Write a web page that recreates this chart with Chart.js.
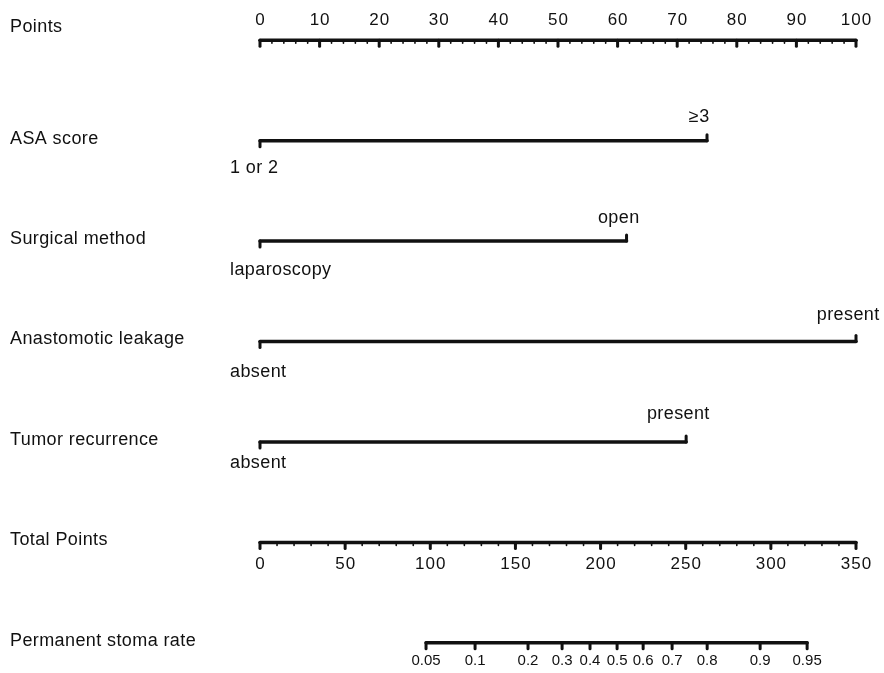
<!DOCTYPE html>
<html>
<head>
<meta charset="utf-8">
<script src="https://cdn.jsdelivr.net/npm/chart.js@4.4.1/dist/chart.umd.min.js"></script>
<style>
body{margin:0;background:#fff;}
#wrap{width:884px;height:673px;position:relative;}
</style>
</head>
<body>
<div id="wrap"><canvas id="nomo"></canvas></div>
<script>
// rows of the nomogram, top to bottom
const rowNames = ['Points','ASA score','Surgical method','Anastomotic leakage','Tumor recurrence','Total Points','Permanent stoma rate'];

// points scale
const pointTicks = [0,10,20,30,40,50,60,70,80,90,100];
const pointMinor = 2;

// predictors: levels and their points
const asaLevels = ['1 or 2','≥3'];
const asaPoints = [0,75];
const methodLevels = ['laparoscopy','open'];
const methodPoints = [0,61.5];
const leakLevels = ['absent','present'];
const leakPoints = [0,100];
const recurLevels = ['absent','present'];
const recurPoints = [0,71.5];

// total points scale
const totalTicks = [0,50,100,150,200,250,300,350];
const totalMinor = 10;

// permanent stoma rate, read against total points
const stomaLabels = ['0.05','0.1','0.2','0.3','0.4','0.5','0.6','0.7','0.8','0.9','0.95'];
const stomaTotal = [97.5,126.3,157.4,177.4,193.8,209.7,225,242,262.6,293.7,321.3];

const predictors = [
	[asaLevels, asaPoints],
	[methodLevels, methodPoints],
	[leakLevels, leakPoints],
	[recurLevels, recurPoints]
];
// label offsets (px) above / below each predictor line
const aboveGap = [-24,-23,-26,-28];
const belowGap = [27,29,31,21];

const FONT = '"Liberation Sans", Arial, sans-serif';
const INK = '#111';

let lineSet = (pts, row, axis) => ({
	data: pts.map(p => ({x: p, y: row})),
	xAxisID: axis,
	borderColor: INK,
	borderWidth: 3.5,
	borderCapStyle: 'round',
	pointRadius: 0,
	showLine: true,
	clip: false
});

let datasets = [lineSet([pointTicks[0], pointTicks[pointTicks.length-1]], 0, 'x')];
predictors.forEach((p, i) => {
	datasets.push(lineSet(p[1], i+1, 'x'));
});
datasets.push(lineSet([totalTicks[0], totalTicks[totalTicks.length-1]], 5, 'x2'));
datasets.push(lineSet([stomaTotal[0], stomaTotal[stomaTotal.length-1]], 6, 'x2'));

const nomoDraw = {
	id: 'nomoDraw',
	afterDatasetsDraw(chart){
		const c = chart.ctx, xs = chart.scales.x, xt = chart.scales.x2, ys = chart.scales.y;
		let tick = (px, py, len, w) => {
			c.beginPath();
			c.lineWidth = w;
			c.lineCap = 'round';
			c.strokeStyle = INK;
			c.moveTo(px, py);
			c.lineTo(px, py+len);
			c.stroke();
		};
		let text = (s, px, py, align, size, sp) => {
			c.font = size+'px '+FONT;
			c.letterSpacing = (sp||0)+'px';
			c.fillStyle = INK;
			c.textAlign = align;
			c.textBaseline = 'middle';
			if(align === 'center') px += (sp||0)/2;
			c.fillText(s, px, py);
		};
		c.save();
		// row names
		rowNames.forEach((n, i) => {
			let py = ys.getPixelForValue(i) - 2;
			if(i === 0) py -= 11;
			text(n, 10, py, 'left', 18, 0.4);
		});
		// points axis
		let y0 = ys.getPixelForValue(0);
		let pMax = pointTicks[pointTicks.length-1];
		for(let v = pointTicks[0]; v <= pMax; v += pointMinor){
			tick(xs.getPixelForValue(v), y0, 3, 1.6);
		}
		pointTicks.forEach(v => {
			tick(xs.getPixelForValue(v), y0, 6, 3);
			text(String(v), xs.getPixelForValue(v), y0-20, 'center', 17, 1);
		});
		// predictors
		predictors.forEach((p, i) => {
			let py = ys.getPixelForValue(i+1);
			let lv = p[0], pts = p[1];
			tick(xs.getPixelForValue(pts[0]), py, 6, 3);
			text(lv[0], xs.getPixelForValue(pts[0])-30, py+belowGap[i], 'left', 18, 0.4);
			tick(xs.getPixelForValue(pts[1]), py, -6, 3);
			text(lv[1], xs.getPixelForValue(pts[1])-8, py+aboveGap[i], 'center', 18, 0.4);
		});
		// total points axis
		let y5 = ys.getPixelForValue(5);
		let tMax = totalTicks[totalTicks.length-1];
		for(let v = totalTicks[0]; v <= tMax; v += totalMinor){
			tick(xt.getPixelForValue(v), y5, 3, 1.6);
		}
		totalTicks.forEach(v => {
			tick(xt.getPixelForValue(v), y5, 6, 3);
			text(String(v), xt.getPixelForValue(v), y5+22, 'center', 17, 1);
		});
		// stoma rate axis
		let y6 = ys.getPixelForValue(6);
		stomaTotal.forEach((v, i) => {
			tick(xt.getPixelForValue(v), y6, 6, 3);
			text(stomaLabels[i], xt.getPixelForValue(v), y6+18, 'center', 15);
		});
		c.restore();
	}
};

new Chart(document.getElementById('nomo'), {
	type: 'scatter',
	data: {datasets: datasets},
	options: {
		responsive: true,
		maintainAspectRatio: false,
		animation: false,
		layout: {padding: {left: 260, right: 28, top: 0, bottom: 0}},
		plugins: {legend: {display: false}, tooltip: {enabled: false}},
		scales: {
			x: {type: 'linear', min: 0, max: 100, display: false},
			x2: {type: 'linear', min: 0, max: 350, display: false},
			y: {type: 'linear', min: -0.4, max: 6.3, reverse: true, display: false}
		}
	},
	plugins: [nomoDraw]
});
</script>
</body>
</html>
